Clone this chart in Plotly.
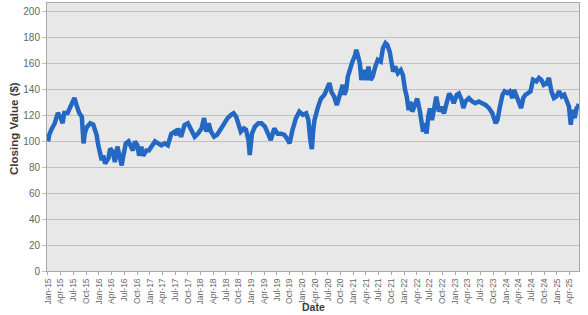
import plotly.graph_objects as go

# Dates and closing values
dates = [
    "2015-01-02", "2015-01-10", "2015-01-25", "2015-02-19", "2015-03-13", "2015-04-04", "2015-04-16", "2015-04-28",
    "2015-05-22", "2015-06-16", "2015-07-10", "2015-07-25", "2015-08-13", "2015-09-01", "2015-09-13", "2015-09-22",
    "2015-10-07", "2015-11-01", "2015-11-22", "2015-12-04", "2015-12-16", "2015-12-28", "2016-01-10", "2016-01-22",
    "2016-02-01", "2016-02-15", "2016-03-10", "2016-03-22", "2016-04-10", "2016-04-25", "2016-05-13", "2016-06-01",
    "2016-06-13", "2016-06-25", "2016-07-13", "2016-08-01", "2016-08-16", "2016-09-01", "2016-09-16", "2016-10-04",
    "2016-10-16", "2016-11-01", "2016-11-13", "2016-12-07", "2016-12-25", "2017-01-13", "2017-02-07", "2017-03-01",
    "2017-03-25", "2017-04-16", "2017-05-10", "2017-06-04", "2017-06-28", "2017-07-10", "2017-07-22", "2017-08-13",
    "2017-09-07", "2017-10-01", "2017-10-25", "2017-11-19", "2017-12-13", "2018-01-07", "2018-01-25", "2018-02-10",
    "2018-02-27", "2018-03-16", "2018-04-07", "2018-04-28", "2018-05-22", "2018-06-19", "2018-07-13", "2018-08-07",
    "2018-08-25", "2018-09-13", "2018-09-28", "2018-10-16", "2018-11-07", "2018-11-22", "2018-12-10", "2018-12-19",
    "2019-01-04", "2019-01-25", "2019-02-19", "2019-03-13", "2019-04-07", "2019-04-25", "2019-05-19", "2019-06-13",
    "2019-07-07", "2019-08-01", "2019-08-25", "2019-09-19", "2019-10-01", "2019-10-22", "2019-11-16", "2019-12-10",
    "2020-01-04", "2020-01-28", "2020-02-13", "2020-02-28", "2020-03-09", "2020-03-18", "2020-03-28", "2020-04-19",
    "2020-05-13", "2020-06-07", "2020-06-25", "2020-07-13", "2020-07-28", "2020-08-16", "2020-09-04", "2020-09-22",
    "2020-10-16", "2020-10-28", "2020-11-10", "2020-11-22", "2020-12-10", "2020-12-25", "2021-01-10", "2021-01-22",
    "2021-02-04", "2021-02-16", "2021-02-27", "2021-03-16", "2021-04-04", "2021-04-19", "2021-05-04", "2021-05-19",
    "2021-06-07", "2021-06-25", "2021-07-16", "2021-08-01", "2021-08-19", "2021-09-01", "2021-09-19", "2021-10-01",
    "2021-10-13", "2021-10-28", "2021-11-16", "2021-12-07", "2021-12-22", "2022-01-07", "2022-01-19", "2022-02-01",
    "2022-02-13", "2022-02-28", "2022-03-16", "2022-04-04", "2022-04-22", "2022-05-04", "2022-05-16", "2022-05-28",
    "2022-06-10", "2022-06-22", "2022-07-04", "2022-07-19", "2022-08-07", "2022-08-19", "2022-09-07", "2022-09-25",
    "2022-10-13", "2022-10-28", "2022-11-19", "2022-12-04", "2022-12-22", "2023-01-13", "2023-01-28", "2023-02-16",
    "2023-03-01", "2023-03-16", "2023-04-10", "2023-05-04", "2023-05-25", "2023-06-19", "2023-07-13", "2023-08-07",
    "2023-09-01", "2023-09-25", "2023-10-19", "2023-11-01", "2023-11-19", "2023-12-07", "2023-12-22", "2024-01-10",
    "2024-01-28", "2024-02-16", "2024-02-28", "2024-03-16", "2024-04-04", "2024-04-19", "2024-05-04", "2024-05-19",
    "2024-06-07", "2024-06-25", "2024-07-13", "2024-08-07", "2024-08-25", "2024-09-10", "2024-09-28", "2024-10-19",
    "2024-11-04", "2024-11-22", "2024-12-10", "2024-12-28", "2025-01-16", "2025-02-04", "2025-02-22", "2025-03-10",
    "2025-03-28", "2025-04-10", "2025-04-22", "2025-05-07", "2025-05-22", "2025-06-02", "2025-06-06",
]

closing = [
    100, 105, 109, 114, 122, 118, 114, 122,
    122, 127, 133.5, 128, 122, 119, 98.5, 106,
    111, 114, 113, 109, 105, 97, 91, 85.5,
    89, 83, 87, 94.5, 92, 84, 96, 87,
    81.5, 89, 98.5, 100, 96, 93, 100, 97,
    89, 96, 89, 93, 93, 96, 100, 98.5,
    97, 98.5, 97, 106, 107.5, 105, 110, 103.6,
    112.7, 114, 109, 103.6, 106, 110, 118, 107.5,
    114, 107.5, 103.6, 105, 109, 114, 118, 120.5,
    121.7, 119, 112.7, 107.5, 110, 109, 101, 89.4,
    106, 111.4, 114, 114, 111.4, 106, 101, 110,
    106, 106, 105, 101, 98.5, 109, 118, 123,
    120.5, 121.7, 116.5, 100, 94, 108, 116.5, 125.5,
    133, 136, 141, 145, 138, 134.5, 128, 134.5,
    143.6, 136, 139.7, 150, 157.7, 161.6, 165.5, 170.6,
    165.5, 160.3, 147.4, 155, 147.4, 157.7, 147.4, 150,
    157.7, 162.9, 161.6, 172, 175.8, 174.5, 169, 161.6,
    153.9, 157.7, 152.6, 155, 151.3, 139.7, 134.5, 124,
    130.7, 123, 126.8, 133, 124, 116.5, 107.5, 114,
    106, 119, 125.5, 116.5, 128, 134.5, 123, 126.8,
    121.6, 129.4, 137, 134.7, 129.5, 136, 137, 132,
    125.7, 130.8, 133.4, 130.8, 129.5, 130.8, 129.5, 128.2,
    125.7, 121.8, 114, 116.6, 127, 136, 138.6, 137.3,
    138.6, 133.4, 139.8, 134.7, 130.8, 125.7, 133.4, 136,
    137.3, 138.6, 147.6, 146.3, 148.9, 147.6, 143.7, 145,
    148.9, 138.6, 133.4, 134.7, 138.6, 134.7, 136, 132.1,
    127, 112.8, 124.4, 118, 125.7, 127, 129,
]

y_ticks = [0, 20, 40, 60, 80, 100, 120, 140, 160, 180, 200]

fig = go.Figure()
fig.add_trace(go.Scatter(
    x=dates, y=closing, mode="lines",
    line=dict(color="#2368C2", width=4.5),
    showlegend=False,
))

fig.update_layout(
    width=588, height=315,
    margin=dict(l=47, r=9, t=3, b=44),
    paper_bgcolor="white",
    plot_bgcolor="#E8E8E8",
    font=dict(family="Liberation Sans, Arial, sans-serif", color="#666666"),
    xaxis=dict(
        type="date",
        range=["2014-12-25", "2025-06-08"],
        tickformat="%b-%y",
        dtick="M3",
        tick0="2015-01-01",
        tickangle=-90,
        tickfont=dict(size=8.5, color="#666666"),
        showgrid=False,
        showline=True, linecolor="#A8A8A8", linewidth=1, mirror=True,
        ticks="outside", ticklen=3, tickcolor="#A8A8A8",
        zeroline=False,
    ),
    yaxis=dict(
        range=[0, 206.8],
        tickvals=y_ticks,
        tickfont=dict(size=10, color="#666666"),
        showgrid=True, gridcolor="#C0C0C0", gridwidth=1,
        showline=True, linecolor="#A8A8A8", linewidth=1, mirror=True,
        ticks="outside", ticklen=4, tickcolor="#C0C0C0",
        zeroline=False,
    ),
    annotations=[
        dict(text="<b>Closing Value ($)</b>", xref="paper", yref="paper",
             x=-33 / 532, y=0.53, textangle=-90, showarrow=False,
             xanchor="center", yanchor="middle",
             font=dict(size=11.5, color="#3A3A3A")),
        dict(text="<b>Date</b>", xref="paper", yref="paper",
             x=0.5, y=-36 / 268, showarrow=False,
             xanchor="center", yanchor="middle",
             font=dict(size=10.5, color="#3A3A3A")),
    ],
)

fig.write_html("out.html")
